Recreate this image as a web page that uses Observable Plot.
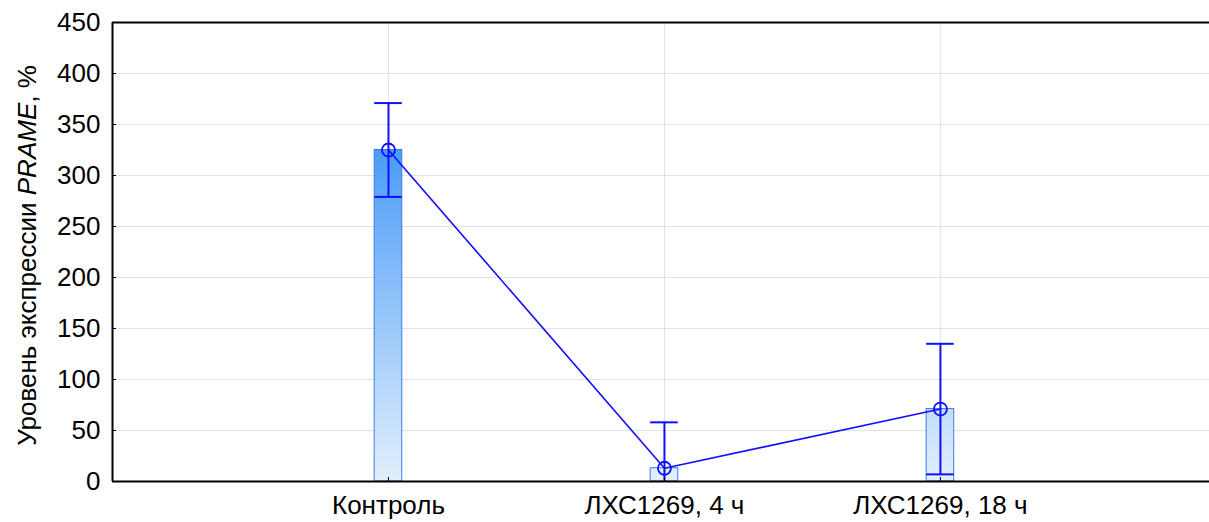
<!DOCTYPE html>
<html>
<head>
<meta charset="utf-8">
<script src="https://cdn.jsdelivr.net/npm/d3@7"></script>
<script src="https://cdn.jsdelivr.net/npm/@observablehq/plot@0.6"></script>
<style>
  html, body { margin: 0; padding: 0; background: #fff; }
  #chart svg { display: block; }
</style>
</head>
<body>
<div id="chart"></div>
<script>
const categories = ["Контроль", "ЛХС1269, 4 ч", "ЛХС1269, 18 ч"];
const positions = [1, 2, 3];
const means = [325, 13, 71];
const upper = [371, 58, 135];
const lower = [279, -32, 7];
const yTicks = [0, 50, 100, 150, 200, 250, 300, 350, 400, 450];

const rows = categories.map((c, i) => ({
  cat: c, x: positions[i], mean: means[i], hi: upper[i], lo: lower[i]
}));

const halfW = 0.05;
const blue = "#1010ff";
const font = "'Liberation Sans', Arial, sans-serif";
const fs = 26;

const plot = Plot.plot({
  width: 1209,
  height: 522,
  marginLeft: 112,
  marginRight: 0,
  marginTop: 22,
  marginBottom: 41,
  style: { fontFamily: font, fontSize: fs + "px", color: "#000", background: "#fff" },
  x: { type: "linear", domain: [0, 3.975] },
  y: { domain: [0, 450] },
  marks: [
    Plot.ruleY(yTicks, { stroke: "#e2e2e2", strokeWidth: 1 }),
    Plot.ruleX(positions, { stroke: "#e2e2e2", strokeWidth: 1 }),
    Plot.rectY(rows, {
      x1: d => d.x - halfW, x2: d => d.x + halfW, y1: 0, y2: "mean",
      fill: "url(#barGrad)", stroke: "#3b7de6", strokeWidth: 1
    }),
    Plot.ruleX(rows, { x: "x", y1: "lo", y2: "hi", stroke: blue, strokeWidth: 2, clip: true }),
    Plot.ruleY(rows, { y: "hi", x1: d => d.x - halfW, x2: d => d.x + halfW, stroke: blue, strokeWidth: 2, clip: true }),
    Plot.ruleY(rows.filter(d => d.lo >= 0), { y: "lo", x1: d => d.x - halfW, x2: d => d.x + halfW, stroke: blue, strokeWidth: 2 }),
    Plot.line(rows, { x: "x", y: "mean", stroke: blue, strokeWidth: 1.6 }),
    Plot.dot(rows, { x: "x", y: "mean", r: 6.5, stroke: blue, strokeWidth: 1.8, fill: "none" }),
    Plot.axisY({ ticks: yTicks, tickSize: 4, dx: 4, text: null, label: null, stroke: "#000" }),
    Plot.axisY({ ticks: yTicks, tickSize: 0, tickPadding: 12, label: null, fill: "#000", fontSize: fs }),
    Plot.axisX({ ticks: positions, tickSize: 4, dy: -4, text: null, label: null, stroke: "#000" }),
    Plot.axisX({ ticks: positions, tickSize: 0, tickPadding: 14, tickFormat: d => categories[positions.indexOf(d)], label: null, fill: "#000", fontSize: fs }),
    Plot.ruleY([0, 450], { stroke: "#000", strokeWidth: 2 }),
    Plot.ruleX([0], { stroke: "#000", strokeWidth: 2 })
  ]
});

const y = plot.scale("y");
const svg = d3.select(plot);
const defs = svg.insert("defs", ":first-child");
const grad = defs.append("linearGradient")
  .attr("id", "barGrad")
  .attr("gradientUnits", "userSpaceOnUse")
  .attr("x1", 0).attr("x2", 0)
  .attr("y1", y.apply(means[0])).attr("y2", y.apply(0));
grad.append("stop").attr("offset", "0%").attr("stop-color", "#4a9cf7");
grad.append("stop").attr("offset", "100%").attr("stop-color", "#e2effd");

const cy = (y.apply(0) + y.apply(450)) / 2 + 4;
const label = svg.append("text")
  .attr("transform", `translate(36,${cy}) rotate(-90)`)
  .attr("text-anchor", "middle")
  .attr("font-family", font)
  .attr("font-size", fs)
  .attr("fill", "#000");
label.append("tspan").text("Уровень экспрессии ");
label.append("tspan").attr("font-style", "italic").text("PRAME");
label.append("tspan").text(", %");

document.getElementById("chart").appendChild(plot);
</script>
</body>
</html>
